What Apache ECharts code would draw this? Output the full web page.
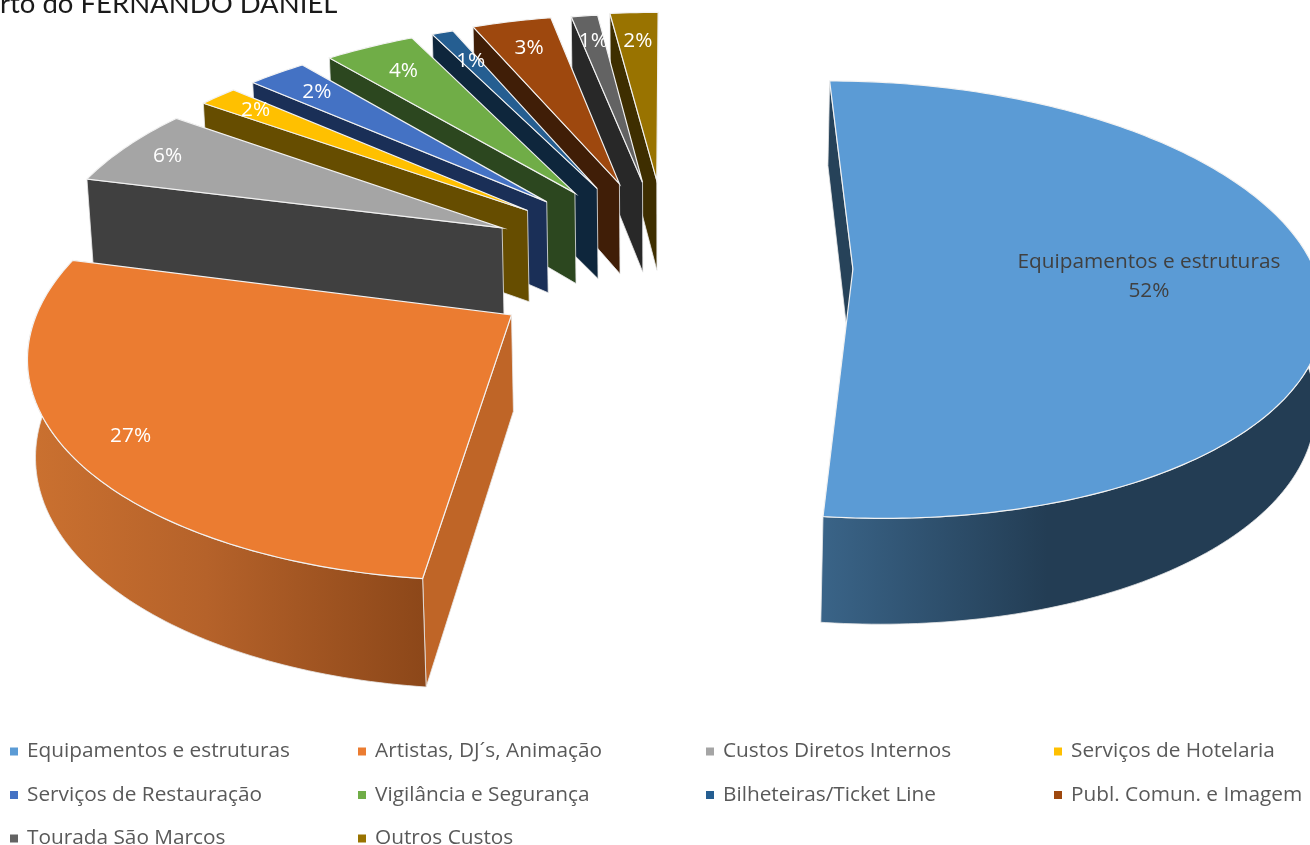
<!DOCTYPE html>
<html>
<head>
<meta charset="utf-8">
<style>
  html, body { margin: 0; padding: 0; background: #fff; overflow: hidden; }
  #chart { width: 1310px; height: 845px; }
</style>
<script src="https://cdn.jsdelivr.net/npm/echarts@6/dist/echarts.min.js"></script>
</head>
<body>
<div id="chart"></div>
<script>
const names = ['Equipamentos e estruturas', 'Artistas, DJ´s, Animação', 'Custos Diretos Internos', 'Serviços de Hotelaria',
  'Serviços de Restauração', 'Vigilância e Segurança', 'Bilheteiras/Ticket Line', 'Publ. Comun. e Imagem',
  'Tourada São Marcos', 'Outros Custos'];
const values = [51.8, 27.2, 5.9, 1.6, 2.45, 3.75, 0.9, 3.3, 1.1, 2];

const colors = ['#5B9BD5', '#EB7C31', '#A5A5A5', '#FFC000', '#4472C4', '#70AD47', '#255E91', '#9E480E', '#636363', '#997300'];
const wallColors = ['#264259', '#BF6527', '#404040', '#664D00', '#1A2F57', '#2C471F', '#0E263C', '#401E07', '#282828', '#3E2E00'];
// outer wall, left to right
const rimStops = [
  [[0, '#3A6488'], [0.45, '#233D54'], [1, '#233D54']],
  [[0, '#CB7130'], [0.45, '#B5622A'], [1, '#8C4719']]
];
const legendCols = [
  [names[0], names[4], names[8]],
  [names[1], names[5], names[9]],
  [names[2], names[6]],
  [names[3], names[7]]
];
const legendLeft = [10, 358, 706, 1054];
// how far along the slice radius each label sits
const labelPos = [0.637, 0.875, 0.885, 0.87, 0.84, 0.82, 0.8, 0.82, 0.83, 0.81];
// how far each slice is pulled out of the pie
const explodes = [0.41, 0.40, 0.41, 0.41, 0.41, 0.41, 0.41, 0.41, 0.41, 0.41];
// small pixel corrections per slice
const shiftX = [-3, 1, 2, 3, 6, 6, 5, 5, 4, 1];
const shiftY = [0, 1, 0, -1, -2, -1, 0, -1, 0, -1];

// tilted pie camera
const cx = 667, cy = 264, rx = 460, ry = 213, persp = 0.14;
const depth = 95, depthPersp = 0.012;

function project(u, v, z) {
  const d = 1 - persp * v + depthPersp * z;
  return [cx + rx * u / d, cy + (ry * v + depth * z) / d];
}

const total = values.reduce((a, b) => a + b, 0);
let run = 0;
const angles = values.map(function (v) {
  const a = [run / total * 360, (run + v) / total * 360];
  run += v;
  return a;
});

function dir(deg) {
  const r = deg * Math.PI / 180;
  return [Math.sin(r), -Math.cos(r)];
}

function renderSlice(idx) {
  return function (params, api) {
    const val = api.value(0);
    const a0 = angles[idx][0], a1 = angles[idx][1];
    const mid = dir((a0 + a1) / 2);
    const ox = mid[0] * explodes[idx], oy = mid[1] * explodes[idx];
    const edge = function (deg, z) {
      const p = dir(deg);
      return project(ox + p[0], oy + p[1], z);
    };
    const apexTop = project(ox, oy, 0), apexBottom = project(ox, oy, 1);
    const top = [apexTop];
    for (let a = a0; a < a1; a += 1) top.push(edge(a, 0));
    top.push(edge(a1, 0));

    const children = [];
    // side wall on the start edge
    children.push({
      type: 'polygon',
      shape: { points: [apexTop, edge(a0, 0), edge(a0, 1), apexBottom] },
      style: { fill: wallColors[idx], stroke: '#e8e8e8', lineWidth: 0.8 }
    });
    // outer rim, only the part facing the viewer
    const from = Math.max(a0, 90), to = Math.min(a1, 270);
    if (to > from) {
      const upper = [], lower = [];
      for (let a = from; a < to; a += 1) {
        upper.push(edge(a, 0));
        lower.unshift(edge(a, 1));
      }
      upper.push(edge(to, 0));
      lower.unshift(edge(to, 1));
      children.push({
        type: 'polygon',
        shape: { points: upper.concat(lower) },
        style: {
          fill: {
            type: 'linear', x: 0, y: 0, x2: 1, y2: 0,
            colorStops: rimStops[idx].map(function (s) { return { offset: s[0], color: s[1] }; })
          },
          stroke: '#e8e8e8', lineWidth: 0.8
        }
      });
    }
    children.push({
      type: 'polygon',
      shape: { points: top },
      style: { fill: colors[idx], stroke: '#f2f2f2', lineWidth: 1.2 }
    });
    // label
    const lr = labelPos[idx];
    const lp = project(ox + mid[0] * lr, oy + mid[1] * lr, 0);
    const pct = Math.round(val / total * 100) + '%';
    children.push({
      type: 'text',
      style: {
        x: lp[0], y: lp[1],
        text: idx === 0 ? names[0] + '\n' + pct : pct,
        fill: idx === 0 ? '#404040' : '#ffffff',
        font: '20.8px "Open Sans"',
        lineHeight: 29,
        align: 'center', verticalAlign: 'middle'
      }
    });
    return { type: 'group', x: shiftX[idx], y: shiftY[idx], children: children };
  };
}

const chart = echarts.init(document.getElementById('chart'), null, { renderer: 'canvas' });

const option = {
  animation: false,
  color: colors,
  title: {
    text: 'rto do FERNANDO DANIEL',
    left: 0, top: -10,
    padding: 0,
    textStyle: { fontFamily: 'Lato', fontSize: 27.5, fontWeight: 'normal', color: '#1a1a1a' }
  },
  legend: legendCols.map(function (col, i) {
    return {
      data: col,
      orient: 'vertical',
      left: legendLeft[i], top: 741,
      height: 200,
      padding: 0,
      itemWidth: 8, itemHeight: 8, itemGap: 22.5,
      icon: 'rect',
      selectedMode: false,
      textStyle: { fontFamily: 'Open Sans', fontSize: 20.8, color: '#595959', padding: [0, 0, 0, 4] }
    };
  }),
  series: names.map(function (name, i) {
    return {
      type: 'custom',
      name: name,
      coordinateSystem: 'none',
      z: 20 - i,
      silent: true,
      clip: false,
      itemStyle: { color: colors[i] },
      renderItem: renderSlice(i),
      data: [[values[i]]]
    };
  })
};
chart.setOption(option);
</script>
</body>
</html>
